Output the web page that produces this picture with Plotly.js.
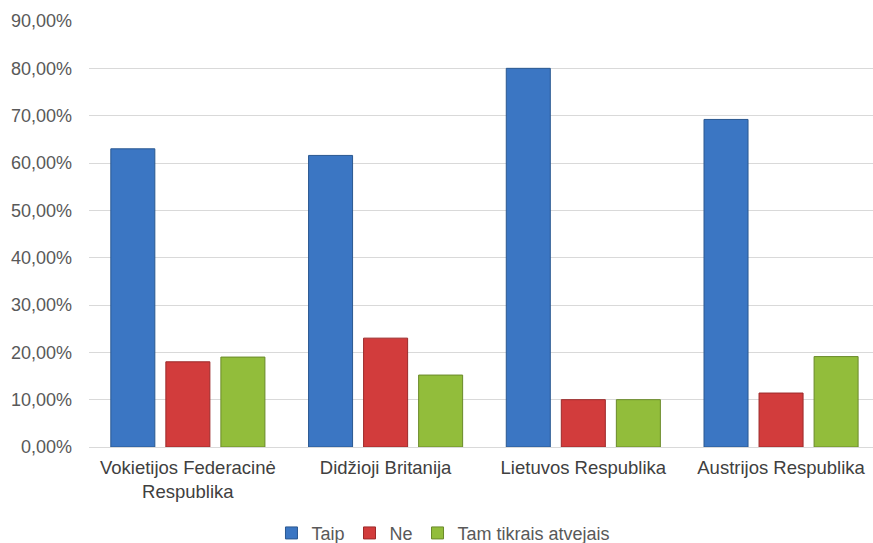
<!DOCTYPE html>
<html>
<head>
<meta charset="utf-8">
<script src="https://cdn.plot.ly/plotly-3.0.1.min.js"></script>
<style>html,body{margin:0;padding:0;background:#fff;}#chart{width:873px;height:543px;}</style>
</head>
<body>
<div id="chart"></div>
<script>
const categories = ["Vokietijos Federacinė<br>Respublika", "Didžioji Britanija", "Lietuvos Respublika", "Austrijos Respublika"];
const taip = [63.0, 61.6, 80.0, 69.2];
const ne = [18.0, 23.0, 10.0, 11.4];
const tamTikrais = [19.0, 15.2, 10.0, 19.1];
const seriesNames = ["Taip", "Ne", "Tam tikrais atvejais"];
const yTicks = [0, 10, 20, 30, 40, 50, 60, 70, 80, 90];
const yTickText = yTicks.map(v => v.toFixed(2).replace(".", ",") + "%");

const fills = ["#3b76c3", "#d23c3c", "#92bd3b"];
const edges = ["#2a5890", "#9c2a2a", "#6a8a2a"];
const values = [taip, ne, tamTikrais];

const traces = values.map((v, i) => ({
  type: "bar",
  name: seriesNames[i],
  x: categories,
  y: v,
  marker: {color: fills[i], line: {color: edges[i], width: 1}},
  hoverinfo: "skip"
}));

const layout = {
  width: 873, height: 543,
  margin: {l: 89, r: 0, t: 21, b: 96, autoexpand: false},
  paper_bgcolor: "#ffffff", plot_bgcolor: "#ffffff",
  font: {family: "Liberation Sans, Arial, sans-serif", color: "#595959", size: 18},
  barmode: "group",
  bargap: 0.165,
  bargroupgap: 0.2,
  showlegend: true,
  legend: {orientation: "h", xref: "container", yref: "container", x: 0.508, xanchor: "center",
           y: 0.018, yanchor: "middle",
           font: {size: 18, color: "#595959"}, itemwidth: 30, traceorder: "normal"},
  xaxis: {type: "category", range: [-0.5, 3.465], showgrid: false, showline: false,
          ticks: "", tickfont: {size: 18.5, color: "#404040"}, ticklabelstandoff: 7, fixedrange: true},
  yaxis: {range: [0, 90], tickmode: "array", tickvals: yTicks, ticktext: yTickText,
          showgrid: true, gridcolor: "#d9d9d9", gridwidth: 1, zeroline: true,
          zerolinecolor: "#d9d9d9", zerolinewidth: 1, showline: false,
          tickfont: {size: 18, color: "#595959"}, ticklabelstandoff: 16, fixedrange: true}
};

Plotly.newPlot("chart", traces, layout, {displayModeBar: false, staticPlot: true});
</script>
</body>
</html>
